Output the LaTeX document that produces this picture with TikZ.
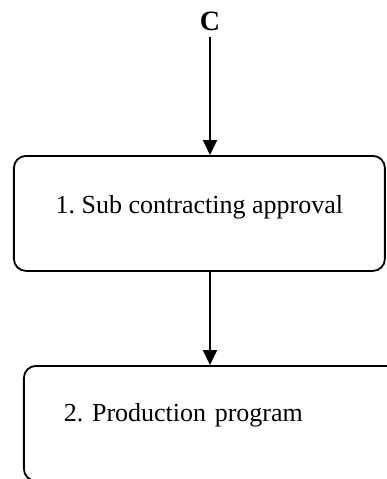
\documentclass[tikz,border=0pt]{standalone}
\usepackage{fontspec}
\setmainfont{Liberation Serif}
\usepackage{tikz}
\usetikzlibrary{arrows.meta}
\frenchspacing
\tikzset{
  stagebox/.style={draw=black, line width=0.9pt, rounded corners=6pt, minimum height=57.5pt, inner sep=0pt, font=\fontsize{13}{15}\selectfont},
  flowlabel/.style={font=\fontsize{14}{16}\selectfont\bfseries, inner sep=3pt},
  arr/.style={-{Triangle[length=7.5pt,width=7pt]}, line width=0.9pt, draw=black}
}
\begin{document}
\begin{tikzpicture}[x=0.5pt,y=-0.5pt]
\clip (0,0) rectangle (387,479);
\node[flowlabel, anchor=base] (c) at (210,30) {C};
\node[stagebox, anchor=north west, minimum width=185.5pt, text height=9pt, text depth=8.5pt] (subcon) at (13,155) {1. Sub contracting approval};
\node[stagebox, anchor=north west, text width=160pt, inner xsep=20pt, align=left, text height=9pt, text depth=11pt] (prodprog) at (23,365) {2. Production program};
\draw[arr] (c.south)--(c.south |- subcon.north);
\draw[arr] (c.south |- subcon.south)--(c.south |- prodprog.north);
\end{tikzpicture}
\end{document}
